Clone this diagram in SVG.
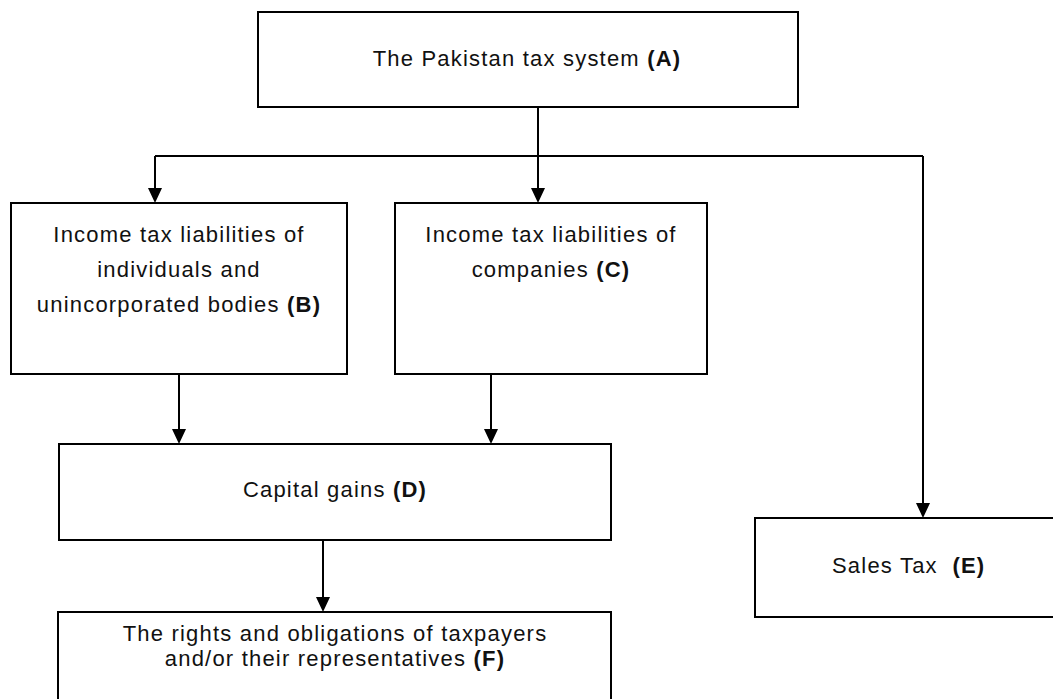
<svg xmlns="http://www.w3.org/2000/svg" width="1053" height="699" viewBox="0 0 1053 699">
<defs>
<style>
.box{fill:#fff;stroke:#000;stroke-width:2}
.t{font-family:"Liberation Sans",Arial,sans-serif;font-size:22px;letter-spacing:1.2px;fill:#111;text-anchor:middle}
.b{font-weight:bold}
.c{fill:none;stroke:#000;stroke-width:2}
</style>
<marker id="ah" markerWidth="14" markerHeight="15" refX="7" refY="15" orient="auto-start-reverse" markerUnits="userSpaceOnUse" viewBox="0 0 14 15">
<path d="M0,0 L14,0 L7,15 Z" fill="#000"/>
</marker>
</defs>
<rect width="1053" height="699" fill="#fff"/>
<g id="connectors">
<path class="c" d="M538,107 V156"/>
<path class="c" d="M155,156 H923"/>
<path class="c" d="M155,156 V188"/>
<path d="M148,188 L162,188 L155,203 Z"/>
<path class="c" d="M538,156 V188"/>
<path d="M531,188 L545,188 L538,203 Z"/>
<path class="c" d="M923,156 V503"/>
<path d="M916,503 L930,503 L923,518 Z"/>
<path class="c" d="M179,374 V429"/>
<path d="M172,429 L186,429 L179,444 Z"/>
<path class="c" d="M491,374 V429"/>
<path d="M484,429 L498,429 L491,444 Z"/>
<path class="c" d="M323,540 V597"/>
<path d="M316,597 L330,597 L323,612 Z"/>
</g>
<g id="nodeA">
<rect class="box" x="258" y="12" width="540" height="95"/>
<text class="t" x="527" y="66">The Pakistan tax system <tspan class="b">(A)</tspan></text>
</g>
<g id="nodeB">
<rect class="box" x="11" y="203" width="336" height="171"/>
<text class="t" x="179" y="242">Income tax liabilities of</text>
<text class="t" x="179" y="277">individuals and</text>
<text class="t" x="179" y="312">unincorporated bodies <tspan class="b">(B)</tspan></text>
</g>
<g id="nodeC">
<rect class="box" x="395" y="203" width="312" height="171"/>
<text class="t" x="551" y="242">Income tax liabilities of</text>
<text class="t" x="551" y="277">companies <tspan class="b">(C)</tspan></text>
</g>
<g id="nodeD">
<rect class="box" x="59" y="444" width="552" height="96"/>
<text class="t" x="335" y="497">Capital gains <tspan class="b">(D)</tspan></text>
</g>
<g id="nodeE">
<rect class="box" x="755" y="518" width="310" height="99"/>
<text class="t" x="832" y="573" style="text-anchor:start" xml:space="preserve">Sales Tax  <tspan class="b">(E)</tspan></text>
</g>
<g id="nodeF">
<rect class="box" x="58" y="612" width="553" height="95"/>
<text class="t" x="335" y="641">The rights and obligations of taxpayers</text>
<text class="t" x="335" y="666">and/or their representatives <tspan class="b">(F)</tspan></text>
</g>
</svg>
